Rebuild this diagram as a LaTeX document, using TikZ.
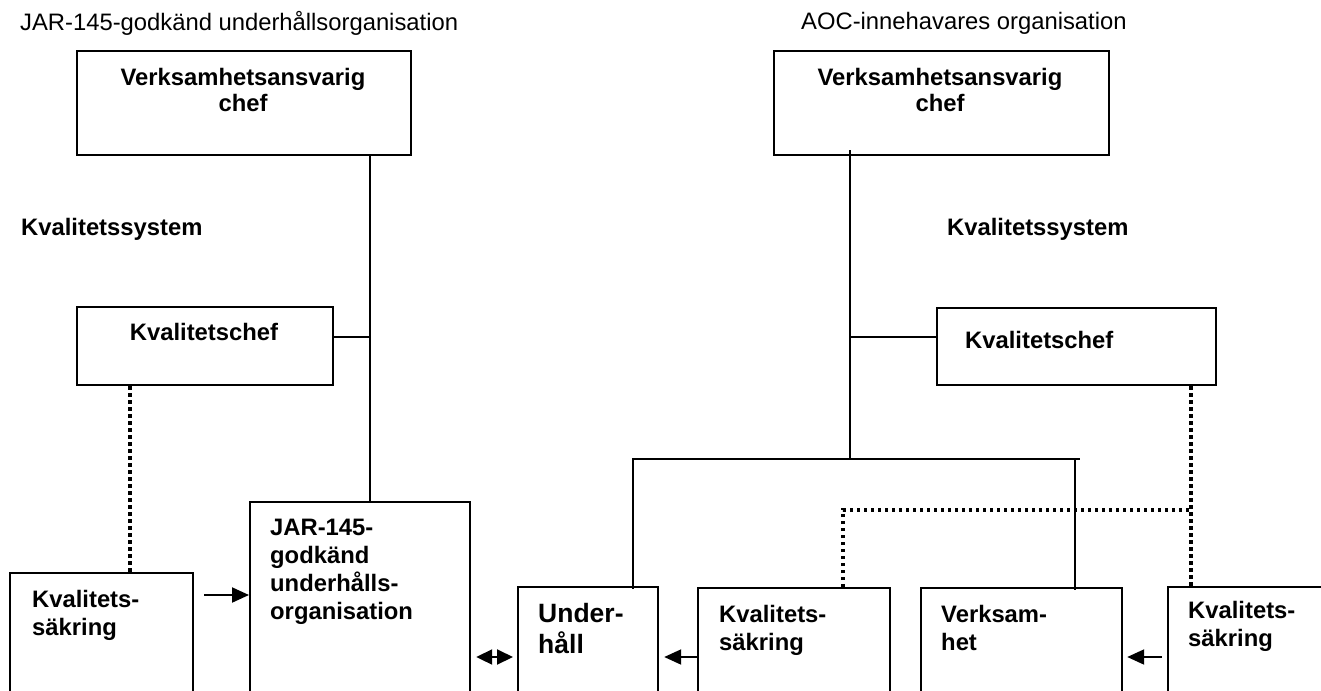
\documentclass[tikz,border=0pt]{standalone}
\usepackage{fontspec}
\setmainfont{Liberation Sans}
\usepackage{tikz}
\usetikzlibrary{arrows.meta, positioning, calc}

\begin{document}
\begin{tikzpicture}[
    x=1pt, y=-1pt,
    box/.style={rectangle, draw, line width=2.2pt, inner sep=0pt, anchor=north west},
    txt/.style={inner sep=0pt, anchor=base west, text width=220pt, align=left, font=\fontsize{23.8}{28}\selectfont\bfseries},
    bigtxt/.style={txt, font=\fontsize{26.5}{31}\selectfont\bfseries},
    ctxt/.style={txt, anchor=base, text width=320pt, align=center, font=\fontsize{23.8}{26}\selectfont\bfseries},
    heading/.style={inner sep=0pt, anchor=base west, font=\fontsize{23.8}{28}\selectfont},
    conn/.style={line width=1.8pt},
    dotline/.style={line width=3.4pt, dash pattern=on 3.4pt off 3.6pt},
    arrow/.style={-{Triangle[length=17pt, width=15pt]}, line width=2pt},
    dblarrow/.style={{Triangle[length=16pt, width=15pt]}-{Triangle[length=16pt, width=15pt]}, line width=2pt},
]
\useasboundingbox (0,0) rectangle (1321,690);
\clip (0,0) rectangle (1321,690);

% Headings
\node[heading] (titleL) at (20,31) {JAR-145-godkänd underhållsorganisation};
\node[heading] (titleR) at (801,30) {AOC-innehavares organisation};
\node[heading, font=\fontsize{23.8}{28}\selectfont\bfseries] (ksysL) at (21,235) {Kvalitetssystem};
\node[heading, font=\fontsize{23.8}{28}\selectfont\bfseries] (ksysR) at (947,235) {Kvalitetssystem};

% JAR-145 organisation (left)
\node[box, minimum width=334pt, minimum height=104pt] (vchefL) at (76,50) {};
\node[ctxt] (vchefLtxt) at (243,86) {Verksamhetsansvarig\\chef};
\node[box, minimum width=256pt, minimum height=78pt] (kchefL) at (76,306) {};
\node[ctxt] (kchefLtxt) at (204,340) {Kvalitetschef};
\node[box, minimum width=183pt, minimum height=160pt] (ksL) at (9,572) {};
\node[txt] (ksLtxt) at (32,607) {Kvalitets-\\säkring};
\node[box, minimum width=220pt, minimum height=220pt] (jar) at (249,501) {};
\node[txt] (jartxt) at (270,535) {JAR-145-\\godkänd\\underhålls-\\organisation};

% AOC organisation (right)
\node[box, minimum width=335pt, minimum height=104pt] (vchefR) at (773,50) {};
\node[ctxt] (vchefRtxt) at (940,86) {Verksamhetsansvarig\\chef};
\node[box, minimum width=279pt, minimum height=77pt] (kchefR) at (936,307) {};
\node[txt] (kchefRtxt) at (965,348) {Kvalitetschef};
\node[box, minimum width=140pt, minimum height=140pt] (underhall) at (517,586) {};
\node[bigtxt] (underhalltxt) at (538,622) {Under-\\håll};
\node[box, minimum width=192pt, minimum height=140pt] (ksM) at (697,587) {};
\node[txt] (ksMtxt) at (719,622) {Kvalitets-\\säkring};
\node[box, minimum width=201pt, minimum height=140pt] (verks) at (920,587) {};
\node[txt] (verkstxt) at (941,622) {Verksam-\\het};
\node[box, minimum width=200pt, minimum height=140pt] (ksR) at (1167,586) {};
\node[txt] (ksRtxt) at (1188,618) {Kvalitets-\\säkring};

% Helper coordinates
\coordinate (trunkL) at (370,0);
\coordinate (trunkR) at (850,0);
\coordinate (dotL) at (130,0);
\coordinate (dotM) at (843,0);
\coordinate (dotR) at (1191,0);
\coordinate (dropU) at (633,0);
\coordinate (dropV) at (1075,0);
\coordinate (chefrow) at (0,337);
\coordinate (busrow) at (0,459);
\coordinate (dotrow) at (0,510);
\coordinate (arrowrowL) at (0,595);
\coordinate (arrowrow) at (0,657);

% Left connectors
\draw[conn] (vchefL.south -| trunkL) -- (jar.north -| trunkL);
\draw[conn] (kchefL.east |- chefrow) -- (trunkL |- chefrow);
\draw[dotline] (kchefL.south -| dotL) -- (ksL.north -| dotL);
\draw[arrow] ([xshift=10pt]ksL.east |- arrowrowL) -- (jar.west |- arrowrowL);
\draw[dblarrow] ([xshift=5pt]jar.east |- arrowrow) -- ([xshift=-4pt]underhall.west |- arrowrow);

% Right connectors
\draw[conn] ([yshift=6pt]vchefR.south -| trunkR) -- (trunkR |- busrow);
\draw[conn] (trunkR |- chefrow) -- (kchefR.west |- chefrow);
\draw[conn] ([yshift=-3pt]underhall.north -| dropU) -- (dropU |- busrow) -- ([xshift=5pt]dropV |- busrow);
\draw[conn] (dropV |- busrow) -- ([yshift=-3pt]verks.north -| dropV);
\draw[dotline] (kchefR.south -| dotR) -- (ksR.north -| dotR);
\draw[dotline] (ksM.north -| dotM) -- (dotM |- dotrow) -- (dotR |- dotrow);
\draw[arrow] (ksM.west |- arrowrow) -- ([xshift=5pt]underhall.east |- arrowrow);
\draw[arrow] ([xshift=-5pt]ksR.west |- arrowrow) -- ([xshift=4pt]verks.east |- arrowrow);

\end{tikzpicture}
\end{document}
